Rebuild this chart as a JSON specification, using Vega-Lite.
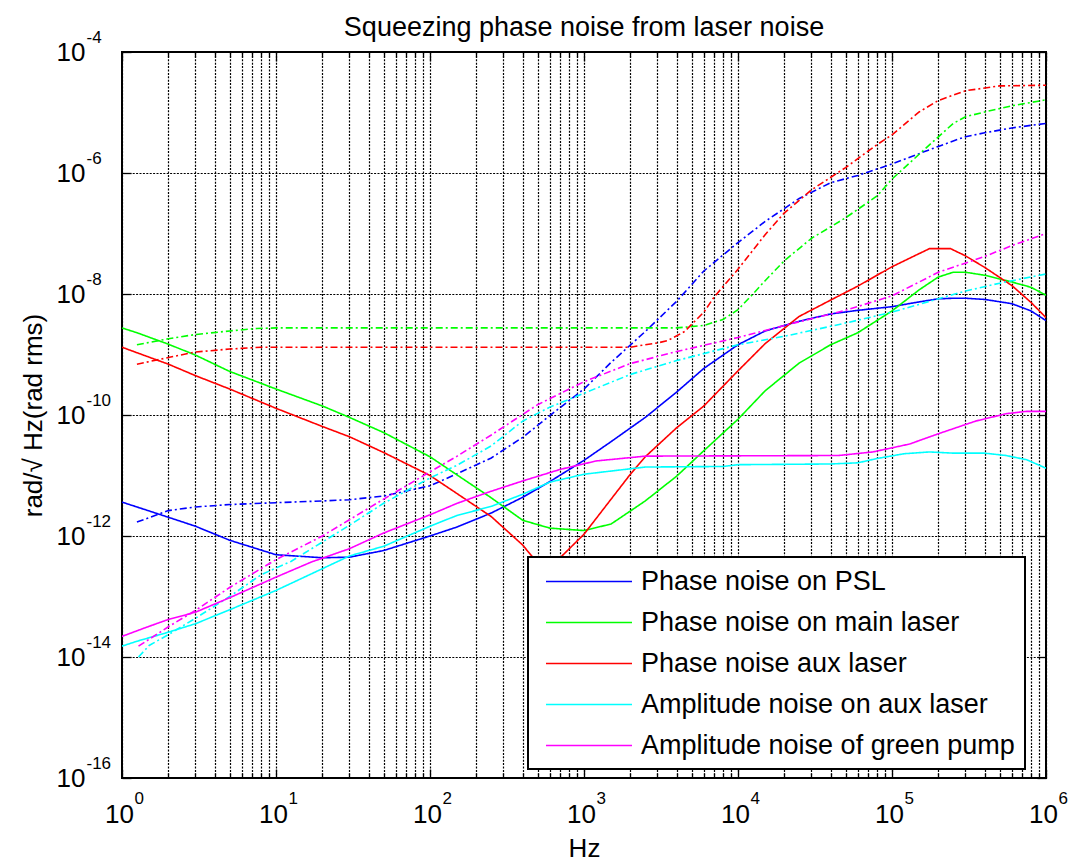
{
"$schema": "https://vega.github.io/schema/vega-lite/v6.json",
"autosize": "none",
"width": 924,
"height": 726,
"padding": {"left": 122, "top": 52, "right": 23, "bottom": 85},
"background": "white",
"title": {"text": "Squeezing phase noise from laser noise", "font": "Liberation Sans", "fontSize": 27, "fontWeight": "normal", "color": "black", "anchor": "middle", "baseline": "alphabetic", "offset": -35},
"config": {
  "view": {"stroke": "black", "strokeWidth": 2},
  "font": "Liberation Sans",
  "legend": {"orient": "none", "legendX": 406, "legendY": 505, "symbolType": "M-3.185,0H3.185", "symbolSize": 729, "symbolStrokeWidth": 1.6, "labelFont": "Liberation Sans", "labelFontSize": 27, "labelColor": "black", "labelLimit": 700, "padding": 10, "rowPadding": 13, "labelOffset": 37.5, "symbolOffset": 36.5, "strokeColor": "black", "strokeWidth": 2, "fillColor": "white"}
},
"data": {"values": [
{"s":"Phase noise on PSL","t":"solid","f":1,"v":3.63e-12},{"s":"Phase noise on PSL","t":"solid","f":1.25,"v":3.02e-12},{"s":"Phase noise on PSL","t":"solid","f":2,"v":2.04e-12},{"s":"Phase noise on PSL","t":"solid","f":3,"v":1.45e-12},{"s":"Phase noise on PSL","t":"solid","f":5,"v":8.51e-13},{"s":"Phase noise on PSL","t":"solid","f":10,"v":4.9e-13},{"s":"Phase noise on PSL","t":"solid","f":20,"v":4.37e-13},{"s":"Phase noise on PSL","t":"solid","f":30,"v":4.47e-13},{"s":"Phase noise on PSL","t":"solid","f":50,"v":5.75e-13},{"s":"Phase noise on PSL","t":"solid","f":100,"v":1e-12},{"s":"Phase noise on PSL","t":"solid","f":150,"v":1.41e-12},{"s":"Phase noise on PSL","t":"solid","f":250,"v":2.4e-12},{"s":"Phase noise on PSL","t":"solid","f":400,"v":4.37e-12},{"s":"Phase noise on PSL","t":"solid","f":600,"v":7.94e-12},{"s":"Phase noise on PSL","t":"solid","f":1000,"v":1.78e-11},{"s":"Phase noise on PSL","t":"solid","f":1500,"v":3.63e-11},{"s":"Phase noise on PSL","t":"solid","f":2500,"v":9.12e-11},{"s":"Phase noise on PSL","t":"solid","f":4000,"v":2.4e-10},{"s":"Phase noise on PSL","t":"solid","f":6000,"v":5.89e-10},{"s":"Phase noise on PSL","t":"solid","f":10000,"v":1.45e-9},{"s":"Phase noise on PSL","t":"solid","f":15000,"v":2.45e-9},{"s":"Phase noise on PSL","t":"solid","f":25000,"v":3.55e-9},{"s":"Phase noise on PSL","t":"solid","f":40000,"v":4.68e-9},{"s":"Phase noise on PSL","t":"solid","f":60000,"v":5.37e-9},{"s":"Phase noise on PSL","t":"solid","f":100000,"v":6.17e-9},{"s":"Phase noise on PSL","t":"solid","f":150000,"v":7.41e-9},{"s":"Phase noise on PSL","t":"solid","f":200000,"v":8.32e-9},{"s":"Phase noise on PSL","t":"solid","f":250000,"v":8.51e-9},{"s":"Phase noise on PSL","t":"solid","f":300000,"v":8.51e-9},{"s":"Phase noise on PSL","t":"solid","f":400000,"v":8.13e-9},{"s":"Phase noise on PSL","t":"solid","f":600000,"v":6.92e-9},{"s":"Phase noise on PSL","t":"solid","f":800000,"v":5.25e-9},{"s":"Phase noise on PSL","t":"solid","f":1000000,"v":3.63e-9},
{"s":"Phase noise on PSL","t":"dashdot","f":1.25,"v":1.7e-12},{"s":"Phase noise on PSL","t":"dashdot","f":2,"v":2.63e-12},{"s":"Phase noise on PSL","t":"dashdot","f":3,"v":3.02e-12},{"s":"Phase noise on PSL","t":"dashdot","f":5,"v":3.31e-12},{"s":"Phase noise on PSL","t":"dashdot","f":10,"v":3.55e-12},{"s":"Phase noise on PSL","t":"dashdot","f":20,"v":3.8e-12},{"s":"Phase noise on PSL","t":"dashdot","f":30,"v":3.98e-12},{"s":"Phase noise on PSL","t":"dashdot","f":50,"v":4.57e-12},{"s":"Phase noise on PSL","t":"dashdot","f":100,"v":6.76e-12},{"s":"Phase noise on PSL","t":"dashdot","f":150,"v":1.07e-11},{"s":"Phase noise on PSL","t":"dashdot","f":250,"v":1.95e-11},{"s":"Phase noise on PSL","t":"dashdot","f":400,"v":4.27e-11},{"s":"Phase noise on PSL","t":"dashdot","f":600,"v":9.77e-11},{"s":"Phase noise on PSL","t":"dashdot","f":1000,"v":2.69e-10},{"s":"Phase noise on PSL","t":"dashdot","f":1500,"v":7.41e-10},{"s":"Phase noise on PSL","t":"dashdot","f":2500,"v":2.4e-9},{"s":"Phase noise on PSL","t":"dashdot","f":4000,"v":7.59e-9},{"s":"Phase noise on PSL","t":"dashdot","f":6000,"v":2.4e-8},{"s":"Phase noise on PSL","t":"dashdot","f":10000,"v":7.08e-8},{"s":"Phase noise on PSL","t":"dashdot","f":15000,"v":1.58e-7},{"s":"Phase noise on PSL","t":"dashdot","f":25000,"v":3.8e-7},{"s":"Phase noise on PSL","t":"dashdot","f":40000,"v":6.92e-7},{"s":"Phase noise on PSL","t":"dashdot","f":60000,"v":9.12e-7},{"s":"Phase noise on PSL","t":"dashdot","f":100000,"v":1.41e-6},{"s":"Phase noise on PSL","t":"dashdot","f":150000,"v":2.09e-6},{"s":"Phase noise on PSL","t":"dashdot","f":200000,"v":2.75e-6},{"s":"Phase noise on PSL","t":"dashdot","f":250000,"v":3.39e-6},{"s":"Phase noise on PSL","t":"dashdot","f":300000,"v":3.98e-6},{"s":"Phase noise on PSL","t":"dashdot","f":400000,"v":4.62e-6},{"s":"Phase noise on PSL","t":"dashdot","f":600000,"v":5.56e-6},{"s":"Phase noise on PSL","t":"dashdot","f":1000000,"v":6.61e-6},
{"s":"Phase noise on main laser","t":"solid","f":1,"v":2.75e-9},{"s":"Phase noise on main laser","t":"solid","f":1.25,"v":2.29e-9},{"s":"Phase noise on main laser","t":"solid","f":2,"v":1.48e-9},{"s":"Phase noise on main laser","t":"solid","f":3,"v":9.77e-10},{"s":"Phase noise on main laser","t":"solid","f":5,"v":5.25e-10},{"s":"Phase noise on main laser","t":"solid","f":10,"v":2.69e-10},{"s":"Phase noise on main laser","t":"solid","f":20,"v":1.41e-10},{"s":"Phase noise on main laser","t":"solid","f":30,"v":9.12e-11},{"s":"Phase noise on main laser","t":"solid","f":50,"v":5.13e-11},{"s":"Phase noise on main laser","t":"solid","f":100,"v":2.04e-11},{"s":"Phase noise on main laser","t":"solid","f":150,"v":1.02e-11},{"s":"Phase noise on main laser","t":"solid","f":250,"v":4.27e-12},{"s":"Phase noise on main laser","t":"solid","f":400,"v":1.82e-12},{"s":"Phase noise on main laser","t":"solid","f":600,"v":1.35e-12},{"s":"Phase noise on main laser","t":"solid","f":1000,"v":1.23e-12},{"s":"Phase noise on main laser","t":"solid","f":1500,"v":1.58e-12},{"s":"Phase noise on main laser","t":"solid","f":2500,"v":3.8e-12},{"s":"Phase noise on main laser","t":"solid","f":4000,"v":9.77e-12},{"s":"Phase noise on main laser","t":"solid","f":6000,"v":2.57e-11},{"s":"Phase noise on main laser","t":"solid","f":10000,"v":8.51e-11},{"s":"Phase noise on main laser","t":"solid","f":15000,"v":2.51e-10},{"s":"Phase noise on main laser","t":"solid","f":25000,"v":7.24e-10},{"s":"Phase noise on main laser","t":"solid","f":40000,"v":1.45e-9},{"s":"Phase noise on main laser","t":"solid","f":60000,"v":2.29e-9},{"s":"Phase noise on main laser","t":"solid","f":100000,"v":5.25e-9},{"s":"Phase noise on main laser","t":"solid","f":150000,"v":1.17e-8},{"s":"Phase noise on main laser","t":"solid","f":200000,"v":1.91e-8},{"s":"Phase noise on main laser","t":"solid","f":250000,"v":2.29e-8},{"s":"Phase noise on main laser","t":"solid","f":300000,"v":2.29e-8},{"s":"Phase noise on main laser","t":"solid","f":400000,"v":2.04e-8},{"s":"Phase noise on main laser","t":"solid","f":600000,"v":1.58e-8},{"s":"Phase noise on main laser","t":"solid","f":800000,"v":1.29e-8},{"s":"Phase noise on main laser","t":"solid","f":1000000,"v":9.55e-9},
{"s":"Phase noise on main laser","t":"dashdot","f":1.25,"v":1.45e-9},{"s":"Phase noise on main laser","t":"dashdot","f":2,"v":1.82e-9},{"s":"Phase noise on main laser","t":"dashdot","f":3,"v":2.14e-9},{"s":"Phase noise on main laser","t":"dashdot","f":5,"v":2.45e-9},{"s":"Phase noise on main laser","t":"dashdot","f":7.5,"v":2.69e-9},{"s":"Phase noise on main laser","t":"dashdot","f":10,"v":2.75e-9},{"s":"Phase noise on main laser","t":"dashdot","f":100,"v":2.75e-9},{"s":"Phase noise on main laser","t":"dashdot","f":1000,"v":2.75e-9},{"s":"Phase noise on main laser","t":"dashdot","f":4000,"v":2.75e-9},{"s":"Phase noise on main laser","t":"dashdot","f":6000,"v":3.02e-9},{"s":"Phase noise on main laser","t":"dashdot","f":8000,"v":3.8e-9},{"s":"Phase noise on main laser","t":"dashdot","f":10000,"v":5.5e-9},{"s":"Phase noise on main laser","t":"dashdot","f":12500,"v":1e-8},{"s":"Phase noise on main laser","t":"dashdot","f":15000,"v":1.66e-8},{"s":"Phase noise on main laser","t":"dashdot","f":20000,"v":3.55e-8},{"s":"Phase noise on main laser","t":"dashdot","f":30000,"v":8.32e-8},{"s":"Phase noise on main laser","t":"dashdot","f":50000,"v":1.82e-7},{"s":"Phase noise on main laser","t":"dashdot","f":80000,"v":4.17e-7},{"s":"Phase noise on main laser","t":"dashdot","f":100000,"v":7.94e-7},{"s":"Phase noise on main laser","t":"dashdot","f":150000,"v":2.04e-6},{"s":"Phase noise on main laser","t":"dashdot","f":250000,"v":6.61e-6},{"s":"Phase noise on main laser","t":"dashdot","f":300000,"v":8.51e-6},{"s":"Phase noise on main laser","t":"dashdot","f":400000,"v":1.02e-5},{"s":"Phase noise on main laser","t":"dashdot","f":600000,"v":1.29e-5},{"s":"Phase noise on main laser","t":"dashdot","f":1000000,"v":1.62e-5},
{"s":"Phase noise aux laser","t":"solid","f":1,"v":1.32e-9},{"s":"Phase noise aux laser","t":"solid","f":1.25,"v":1.07e-9},{"s":"Phase noise aux laser","t":"solid","f":2,"v":6.92e-10},{"s":"Phase noise aux laser","t":"solid","f":3,"v":4.47e-10},{"s":"Phase noise aux laser","t":"solid","f":5,"v":2.69e-10},{"s":"Phase noise aux laser","t":"solid","f":10,"v":1.29e-10},{"s":"Phase noise aux laser","t":"solid","f":20,"v":6.46e-11},{"s":"Phase noise aux laser","t":"solid","f":30,"v":4.37e-11},{"s":"Phase noise aux laser","t":"solid","f":50,"v":2.4e-11},{"s":"Phase noise aux laser","t":"solid","f":100,"v":1e-11},{"s":"Phase noise aux laser","t":"solid","f":150,"v":5.01e-12},{"s":"Phase noise aux laser","t":"solid","f":250,"v":2.09e-12},{"s":"Phase noise aux laser","t":"solid","f":400,"v":7.08e-13},{"s":"Phase noise aux laser","t":"solid","f":500,"v":3.55e-13},{"s":"Phase noise aux laser","t":"solid","f":600,"v":2.82e-13},{"s":"Phase noise aux laser","t":"solid","f":700,"v":4.37e-13},{"s":"Phase noise aux laser","t":"solid","f":1000,"v":1.07e-12},{"s":"Phase noise aux laser","t":"solid","f":1500,"v":4.07e-12},{"s":"Phase noise aux laser","t":"solid","f":2000,"v":1.05e-11},{"s":"Phase noise aux laser","t":"solid","f":2500,"v":2.04e-11},{"s":"Phase noise aux laser","t":"solid","f":4000,"v":6.17e-11},{"s":"Phase noise aux laser","t":"solid","f":6000,"v":1.41e-10},{"s":"Phase noise aux laser","t":"solid","f":10000,"v":5.37e-10},{"s":"Phase noise aux laser","t":"solid","f":15000,"v":1.51e-9},{"s":"Phase noise aux laser","t":"solid","f":25000,"v":4.27e-9},{"s":"Phase noise aux laser","t":"solid","f":40000,"v":7.94e-9},{"s":"Phase noise aux laser","t":"solid","f":60000,"v":1.35e-8},{"s":"Phase noise aux laser","t":"solid","f":100000,"v":2.82e-8},{"s":"Phase noise aux laser","t":"solid","f":175000,"v":5.62e-8},{"s":"Phase noise aux laser","t":"solid","f":240000,"v":5.62e-8},{"s":"Phase noise aux laser","t":"solid","f":300000,"v":4.27e-8},{"s":"Phase noise aux laser","t":"solid","f":400000,"v":2.75e-8},{"s":"Phase noise aux laser","t":"solid","f":600000,"v":1.38e-8},{"s":"Phase noise aux laser","t":"solid","f":800000,"v":7.24e-9},{"s":"Phase noise aux laser","t":"solid","f":1000000,"v":4.07e-9},
{"s":"Phase noise aux laser","t":"dashdot","f":1.25,"v":6.92e-10},{"s":"Phase noise aux laser","t":"dashdot","f":2,"v":8.91e-10},{"s":"Phase noise aux laser","t":"dashdot","f":3,"v":1.1e-9},{"s":"Phase noise aux laser","t":"dashdot","f":5,"v":1.23e-9},{"s":"Phase noise aux laser","t":"dashdot","f":8,"v":1.32e-9},{"s":"Phase noise aux laser","t":"dashdot","f":100,"v":1.32e-9},{"s":"Phase noise aux laser","t":"dashdot","f":1000,"v":1.32e-9},{"s":"Phase noise aux laser","t":"dashdot","f":2000,"v":1.32e-9},{"s":"Phase noise aux laser","t":"dashdot","f":2500,"v":1.45e-9},{"s":"Phase noise aux laser","t":"dashdot","f":3000,"v":1.55e-9},{"s":"Phase noise aux laser","t":"dashdot","f":3500,"v":1.7e-9},{"s":"Phase noise aux laser","t":"dashdot","f":4500,"v":2.4e-9},{"s":"Phase noise aux laser","t":"dashdot","f":6000,"v":5.01e-9},{"s":"Phase noise aux laser","t":"dashdot","f":7000,"v":8.91e-9},{"s":"Phase noise aux laser","t":"dashdot","f":10000,"v":2.57e-8},{"s":"Phase noise aux laser","t":"dashdot","f":15000,"v":9.55e-8},{"s":"Phase noise aux laser","t":"dashdot","f":20000,"v":2.19e-7},{"s":"Phase noise aux laser","t":"dashdot","f":30000,"v":5.25e-7},{"s":"Phase noise aux laser","t":"dashdot","f":50000,"v":1.23e-6},{"s":"Phase noise aux laser","t":"dashdot","f":80000,"v":2.95e-6},{"s":"Phase noise aux laser","t":"dashdot","f":100000,"v":4.27e-6},{"s":"Phase noise aux laser","t":"dashdot","f":150000,"v":1.02e-5},{"s":"Phase noise aux laser","t":"dashdot","f":200000,"v":1.58e-5},{"s":"Phase noise aux laser","t":"dashdot","f":300000,"v":2.29e-5},{"s":"Phase noise aux laser","t":"dashdot","f":500000,"v":2.75e-5},{"s":"Phase noise aux laser","t":"dashdot","f":1000000,"v":2.82e-5},
{"s":"Amplitude noise on aux laser","t":"solid","f":1,"v":1.51e-14},{"s":"Amplitude noise on aux laser","t":"solid","f":1.25,"v":1.82e-14},{"s":"Amplitude noise on aux laser","t":"solid","f":2,"v":2.57e-14},{"s":"Amplitude noise on aux laser","t":"solid","f":3,"v":3.55e-14},{"s":"Amplitude noise on aux laser","t":"solid","f":5,"v":6.03e-14},{"s":"Amplitude noise on aux laser","t":"solid","f":10,"v":1.26e-13},{"s":"Amplitude noise on aux laser","t":"solid","f":20,"v":2.88e-13},{"s":"Amplitude noise on aux laser","t":"solid","f":30,"v":4.68e-13},{"s":"Amplitude noise on aux laser","t":"solid","f":50,"v":6.76e-13},{"s":"Amplitude noise on aux laser","t":"solid","f":100,"v":1.45e-12},{"s":"Amplitude noise on aux laser","t":"solid","f":150,"v":2.19e-12},{"s":"Amplitude noise on aux laser","t":"solid","f":250,"v":3.09e-12},{"s":"Amplitude noise on aux laser","t":"solid","f":400,"v":4.9e-12},{"s":"Amplitude noise on aux laser","t":"solid","f":600,"v":7.76e-12},{"s":"Amplitude noise on aux laser","t":"solid","f":1000,"v":1.05e-11},{"s":"Amplitude noise on aux laser","t":"solid","f":2500,"v":1.38e-11},{"s":"Amplitude noise on aux laser","t":"solid","f":8000,"v":1.41e-11},{"s":"Amplitude noise on aux laser","t":"solid","f":10000,"v":1.51e-11},{"s":"Amplitude noise on aux laser","t":"solid","f":40000,"v":1.55e-11},{"s":"Amplitude noise on aux laser","t":"solid","f":60000,"v":1.62e-11},{"s":"Amplitude noise on aux laser","t":"solid","f":80000,"v":1.91e-11},{"s":"Amplitude noise on aux laser","t":"solid","f":120000,"v":2.29e-11},{"s":"Amplitude noise on aux laser","t":"solid","f":175000,"v":2.45e-11},{"s":"Amplitude noise on aux laser","t":"solid","f":250000,"v":2.34e-11},{"s":"Amplitude noise on aux laser","t":"solid","f":400000,"v":2.34e-11},{"s":"Amplitude noise on aux laser","t":"solid","f":550000,"v":2.14e-11},{"s":"Amplitude noise on aux laser","t":"solid","f":750000,"v":1.82e-11},{"s":"Amplitude noise on aux laser","t":"solid","f":1000000,"v":1.32e-11},
{"s":"Amplitude noise on aux laser","t":"dashdot","f":1.28,"v":1e-14},{"s":"Amplitude noise on aux laser","t":"dashdot","f":1.5,"v":1.55e-14},{"s":"Amplitude noise on aux laser","t":"dashdot","f":2,"v":2.34e-14},{"s":"Amplitude noise on aux laser","t":"dashdot","f":3,"v":4.37e-14},{"s":"Amplitude noise on aux laser","t":"dashdot","f":5,"v":1e-13},{"s":"Amplitude noise on aux laser","t":"dashdot","f":8,"v":2.29e-13},{"s":"Amplitude noise on aux laser","t":"dashdot","f":12.5,"v":3.8e-13},{"s":"Amplitude noise on aux laser","t":"dashdot","f":20,"v":7.94e-13},{"s":"Amplitude noise on aux laser","t":"dashdot","f":30,"v":1.51e-12},{"s":"Amplitude noise on aux laser","t":"dashdot","f":50,"v":3.47e-12},{"s":"Amplitude noise on aux laser","t":"dashdot","f":100,"v":9.12e-12},{"s":"Amplitude noise on aux laser","t":"dashdot","f":150,"v":1.48e-11},{"s":"Amplitude noise on aux laser","t":"dashdot","f":250,"v":3.09e-11},{"s":"Amplitude noise on aux laser","t":"dashdot","f":400,"v":7.94e-11},{"s":"Amplitude noise on aux laser","t":"dashdot","f":600,"v":1.35e-10},{"s":"Amplitude noise on aux laser","t":"dashdot","f":1000,"v":2.29e-10},{"s":"Amplitude noise on aux laser","t":"dashdot","f":2000,"v":4.68e-10},{"s":"Amplitude noise on aux laser","t":"dashdot","f":4000,"v":7.94e-10},{"s":"Amplitude noise on aux laser","t":"dashdot","f":10000,"v":1.45e-9},{"s":"Amplitude noise on aux laser","t":"dashdot","f":20000,"v":2e-9},{"s":"Amplitude noise on aux laser","t":"dashdot","f":50000,"v":3.31e-9},{"s":"Amplitude noise on aux laser","t":"dashdot","f":100000,"v":5.01e-9},{"s":"Amplitude noise on aux laser","t":"dashdot","f":200000,"v":8.32e-9},{"s":"Amplitude noise on aux laser","t":"dashdot","f":300000,"v":1.12e-8},{"s":"Amplitude noise on aux laser","t":"dashdot","f":500000,"v":1.51e-8},{"s":"Amplitude noise on aux laser","t":"dashdot","f":1000000,"v":2.14e-8},
{"s":"Amplitude noise of green pump","t":"solid","f":1,"v":2.19e-14},{"s":"Amplitude noise of green pump","t":"solid","f":1.4,"v":3.02e-14},{"s":"Amplitude noise of green pump","t":"solid","f":2,"v":4.17e-14},{"s":"Amplitude noise of green pump","t":"solid","f":3,"v":5.5e-14},{"s":"Amplitude noise of green pump","t":"solid","f":5,"v":9.55e-14},{"s":"Amplitude noise of green pump","t":"solid","f":10,"v":2.09e-13},{"s":"Amplitude noise of green pump","t":"solid","f":17,"v":3.72e-13},{"s":"Amplitude noise of green pump","t":"solid","f":30,"v":6.17e-13},{"s":"Amplitude noise of green pump","t":"solid","f":50,"v":1.12e-12},{"s":"Amplitude noise of green pump","t":"solid","f":100,"v":2.24e-12},{"s":"Amplitude noise of green pump","t":"solid","f":150,"v":3.47e-12},{"s":"Amplitude noise of green pump","t":"solid","f":250,"v":5.5e-12},{"s":"Amplitude noise of green pump","t":"solid","f":400,"v":8.13e-12},{"s":"Amplitude noise of green pump","t":"solid","f":700,"v":1.26e-11},{"s":"Amplitude noise of green pump","t":"solid","f":1200,"v":1.74e-11},{"s":"Amplitude noise of green pump","t":"solid","f":2500,"v":2.09e-11},{"s":"Amplitude noise of green pump","t":"solid","f":45000,"v":2.14e-11},{"s":"Amplitude noise of green pump","t":"solid","f":75000,"v":2.45e-11},{"s":"Amplitude noise of green pump","t":"solid","f":130000,"v":3.31e-11},{"s":"Amplitude noise of green pump","t":"solid","f":200000,"v":4.9e-11},{"s":"Amplitude noise of green pump","t":"solid","f":350000,"v":7.94e-11},{"s":"Amplitude noise of green pump","t":"solid","f":550000,"v":1.05e-10},{"s":"Amplitude noise of green pump","t":"solid","f":750000,"v":1.15e-10},{"s":"Amplitude noise of green pump","t":"solid","f":1000000,"v":1.15e-10},
{"s":"Amplitude noise of green pump","t":"dashdot","f":1.28,"v":1.51e-14},{"s":"Amplitude noise of green pump","t":"dashdot","f":2,"v":3.16e-14},{"s":"Amplitude noise of green pump","t":"dashdot","f":3,"v":5.89e-14},{"s":"Amplitude noise of green pump","t":"dashdot","f":5,"v":1.41e-13},{"s":"Amplitude noise of green pump","t":"dashdot","f":10,"v":4.07e-13},{"s":"Amplitude noise of green pump","t":"dashdot","f":20,"v":1e-12},{"s":"Amplitude noise of green pump","t":"dashdot","f":30,"v":1.86e-12},{"s":"Amplitude noise of green pump","t":"dashdot","f":50,"v":4.07e-12},{"s":"Amplitude noise of green pump","t":"dashdot","f":100,"v":1.15e-11},{"s":"Amplitude noise of green pump","t":"dashdot","f":150,"v":2.09e-11},{"s":"Amplitude noise of green pump","t":"dashdot","f":250,"v":4.68e-11},{"s":"Amplitude noise of green pump","t":"dashdot","f":500,"v":1.48e-10},{"s":"Amplitude noise of green pump","t":"dashdot","f":1000,"v":3.55e-10},{"s":"Amplitude noise of green pump","t":"dashdot","f":2000,"v":7.08e-10},{"s":"Amplitude noise of green pump","t":"dashdot","f":4000,"v":1.12e-9},{"s":"Amplitude noise of green pump","t":"dashdot","f":10000,"v":1.91e-9},{"s":"Amplitude noise of green pump","t":"dashdot","f":20000,"v":3.02e-9},{"s":"Amplitude noise of green pump","t":"dashdot","f":50000,"v":5.37e-9},{"s":"Amplitude noise of green pump","t":"dashdot","f":100000,"v":9.33e-9},{"s":"Amplitude noise of green pump","t":"dashdot","f":200000,"v":2.29e-8},{"s":"Amplitude noise of green pump","t":"dashdot","f":400000,"v":4.17e-8},{"s":"Amplitude noise of green pump","t":"dashdot","f":600000,"v":6.31e-8},{"s":"Amplitude noise of green pump","t":"dashdot","f":1000000,"v":1e-7}
]},
"layer": [
{
"mark": {"type": "line", "strokeWidth": 1.6, "clip": true},
"encoding": {
  "x": {"field": "f", "type": "quantitative",
    "scale": {"type": "log", "domain": [1, 1000000], "nice": false},
    "axis": {"orient": "bottom", "values": [1,2,3,4,5,6,7,8,9,10,20,30,40,50,60,70,80,90,100,200,300,400,500,600,700,800,900,1000,2000,3000,4000,5000,6000,7000,8000,9000,10000,20000,30000,40000,50000,60000,70000,80000,90000,100000,200000,300000,400000,500000,600000,700000,800000,900000,1000000],
      "labelExpr": "abs(log(datum.value)/LN10 - round(log(datum.value)/LN10)) < 0.001 ? '10' : ''",
      "labelFont": "Liberation Sans", "labelFontSize": 26, "labelColor": "black", "labelPadding": 23, "labelFlush": false, "labelOverlap": false, "labelOffset": -3,
      "grid": true, "gridColor": "black", "gridDash": [2, 1.4], "gridWidth": 1.2, "gridOpacity": 1,
      "domain": false, "ticks": false,
      "title": "Hz", "titleFont": "Liberation Sans", "titleFontSize": 26, "titleFontWeight": "normal", "titleColor": "black", "titlePadding": 8}},
  "y": {"field": "v", "type": "quantitative",
    "scale": {"type": "log", "domain": [1e-16, 1e-4], "nice": false},
    "axis": {"orient": "left", "values": [1e-16, 1e-14, 1e-12, 1e-10, 1e-8, 1e-6, 1e-4],
      "labelExpr": "'10'",
      "labelFont": "Liberation Sans", "labelFontSize": 26, "labelColor": "black", "labelPadding": 37, "labelOverlap": false,
      "grid": true, "gridColor": "black", "gridDash": [2, 1.4], "gridWidth": 1.2, "gridOpacity": 1,
      "domain": false, "ticks": false,
      "title": "rad/√ Hz(rad rms)", "titleFont": "Liberation Sans", "titleFontSize": 26, "titleFontWeight": "normal", "titleColor": "black", "titlePadding": 10}},
  "color": {"field": "s", "type": "nominal", "title": null,
    "scale": {"domain": ["Phase noise on PSL", "Phase noise on main laser", "Phase noise aux laser", "Amplitude noise on aux laser", "Amplitude noise of green pump"], "range": ["#0000ff", "#00ff00", "#ff0000", "#00ffff", "#ff00ff"]}},
  "strokeDash": {"field": "t", "type": "nominal", "legend": null,
    "scale": {"domain": ["solid", "dashdot"], "range": [[1, 0], [7, 3, 2, 3]]}}
}
},
{
"mark": {"type": "point", "opacity": 0},
"encoding": {
  "x": {"field": "f", "type": "quantitative",
    "scale": {"type": "log", "domain": [1, 1000000], "nice": false},
    "axis": {"orient": "bottom", "values": [1,10,100,1000,10000,100000,1000000],
      "labelExpr": "format(round(log(datum.value)/LN10), 'd')",
      "labelFont": "Liberation Sans", "labelFontSize": 17, "labelColor": "black", "labelPadding": 12, "labelFlush": false, "labelOverlap": false, "labelAlign": "left", "labelOffset": 12,
      "grid": false, "domain": false, "ticks": false, "title": null}},
  "y": {"field": "v", "type": "quantitative",
    "scale": {"type": "log", "domain": [1e-16, 1e-4], "nice": false},
    "axis": {"orient": "left", "values": [1e-16, 1e-14, 1e-12, 1e-10, 1e-8, 1e-6, 1e-4],
      "labelExpr": "'-' + format(round(-log(datum.value)/LN10), 'd')",
      "labelFont": "Liberation Sans", "labelFontSize": 17, "labelColor": "black", "labelPadding": 36, "labelAlign": "left", "labelOffset": -15, "labelOverlap": false,
      "grid": false, "domain": false, "ticks": false, "title": null}}
}
},
{
"mark": {"type": "point", "opacity": 0},
"encoding": {
  "x": {"field": "f", "type": "quantitative",
    "scale": {"type": "log", "domain": [1, 1000000], "nice": false},
    "axis": {"orient": "top", "values": [1,2,3,4,5,6,7,8,9,10,20,30,40,50,60,70,80,90,100,200,300,400,500,600,700,800,900,1000,2000,3000,4000,5000,6000,7000,8000,9000,10000,20000,30000,40000,50000,60000,70000,80000,90000,100000,200000,300000,400000,500000,600000,700000,800000,900000,1000000],
      "labels": false, "grid": false, "domain": false, "ticks": true, "tickColor": "black", "tickWidth": 1.3,
      "tickSize": {"condition": {"test": "abs(log(datum.value)/LN10 - round(log(datum.value)/LN10)) < 0.001", "value": -9}, "value": -5},
      "title": null}},
  "y": {"field": "v", "type": "quantitative",
    "scale": {"type": "log", "domain": [1e-16, 1e-4], "nice": false},
    "axis": {"orient": "right", "values": [1e-16, 1e-14, 1e-12, 1e-10, 1e-8, 1e-6, 1e-4],
      "labels": false, "grid": false, "domain": false, "ticks": true, "tickColor": "black", "tickWidth": 1.3, "tickSize": -9, "title": null}}
}
},
{
"mark": {"type": "point", "opacity": 0},
"encoding": {
  "x": {"field": "f", "type": "quantitative",
    "scale": {"type": "log", "domain": [1, 1000000], "nice": false},
    "axis": {"orient": "bottom", "values": [1,2,3,4,5,6,7,8,9,10,20,30,40,50,60,70,80,90,100,200,300,400,500,600,700,800,900,1000,2000,3000,4000,5000,6000,7000,8000,9000,10000,20000,30000,40000,50000,60000,70000,80000,90000,100000,200000,300000,400000,500000,600000,700000,800000,900000,1000000],
      "labels": false, "grid": false, "domain": false, "ticks": true, "tickColor": "black", "tickWidth": 1.3,
      "tickSize": {"condition": {"test": "abs(log(datum.value)/LN10 - round(log(datum.value)/LN10)) < 0.001", "value": -9}, "value": -5},
      "title": null}},
  "y": {"field": "v", "type": "quantitative",
    "scale": {"type": "log", "domain": [1e-16, 1e-4], "nice": false},
    "axis": {"orient": "left", "values": [1e-16, 1e-14, 1e-12, 1e-10, 1e-8, 1e-6, 1e-4],
      "labels": false, "grid": false, "domain": false, "ticks": true, "tickColor": "black", "tickWidth": 1.3, "tickSize": -9, "title": null}}
}
}
],
"resolve": {"axis": {"x": "independent", "y": "independent"}}
}
